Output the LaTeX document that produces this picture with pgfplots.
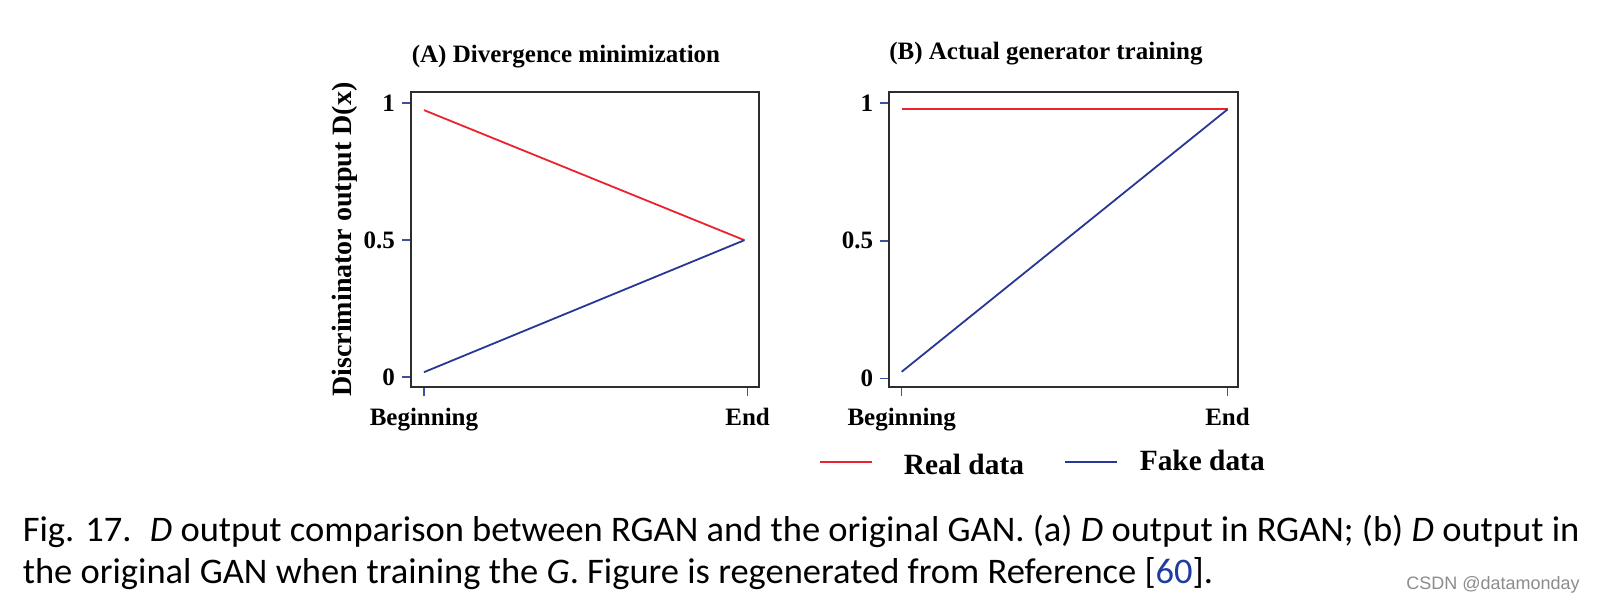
\documentclass[border=0pt]{standalone}
\usepackage{fontspec}
\setmainfont{Liberation Serif}
\newfontfamily\capfont{Carlito}
\newfontfamily\wmfont{Liberation Sans}
\usepackage{pgfplots}
\pgfplotsset{compat=1.18}
\definecolor{realred}{RGB}{235,35,45}
\definecolor{fakeblue}{RGB}{40,55,150}
\definecolor{tickblue}{RGB}{60,80,160}
\definecolor{linkblue}{RGB}{30,60,160}
\definecolor{framegray}{RGB}{45,45,45}
\newsavebox\capA
\newsavebox\capB
\newlength\capw
\AtBeginDocument{%
\savebox\capA{\capfont\fontsize{18}{21}\selectfont Fig. 17.\enspace\textit{D} output comparison between RGAN and the original GAN. (a) \textit{D} output in RGAN; (b) \textit{D} output in}%
\savebox\capB{\capfont\fontsize{18}{21}\selectfont the original GAN when training the \textit{G}. Figure is regenerated from Reference [{\color{linkblue}60}].}%
\setlength\capw{\wd\capA}%
\pgfmathsetmacro\capsx{778.3/\capw}%
}
\pgfplotsset{
  every axis title shift=0pt,
  gan/.style={
    scale only axis, width=174.15pt, height=147.2pt,
    anchor=south west,
    axis line style={draw=framegray, line width=1pt},
    xtick={0,1}, xticklabels={Beginning,End},
    ytick={0,0.5,1}, yticklabels={0,0.5,1},
    xtick pos=bottom, ytick pos=left,
    tick align=outside,
    major tick length=4.5pt,
    tick style={draw=tickblue, line width=0.8pt},
    tick label style={font=\fontsize{12.5}{14}\selectfont\bfseries, text=black},
    x tick label style={yshift=-2.5pt},
    title style={font=\fontsize{12.5}{14}\selectfont\bfseries, anchor=center},
  }
}
\begin{document}
\begin{tikzpicture}
\path[use as bounding box, fill=white] (0,0) rectangle (798.5pt,-301.5pt);
% Panel A
\begin{axis}[gan,
  at={(205.5pt,-193.35pt)},
  xmin=-0.04, xmax=1.036, ymin=-0.035, ymax=1.04,
  title={(A) Divergence minimization},
  title style={at={(axis description cs:0.445,1.121)}},
  ylabel={Discriminator output D(x)},
  ylabel style={at={(axis description cs:-0.1895,0.5)}, anchor=center, font=\fontsize{14}{16}\selectfont\bfseries},
]
\addplot[realred, line width=0.9pt] coordinates {(0,0.975) (0.99,0.5)};
\addplot[fakeblue, line width=0.9pt] coordinates {(0,0.018) (0.99,0.5)};
\end{axis}
% Panel B
\begin{axis}[gan,
  at={(444.65pt,-193.35pt)},
  xmin=-0.038, xmax=1.031, ymin=-0.029, ymax=1.038,
  title={(B) Actual generator training},
  title style={at={(axis description cs:0.4497,1.1325)}},
  legend image code/.code={\draw[#1] (0pt,0pt) -- (26pt,0pt);},
  legend style={draw=none, fill=none, inner sep=0pt,
    at={(axis description cs:-0.202,-0.2548)}, anchor=west,
    legend columns=2,
    font=\fontsize{14.7}{16}\selectfont\bfseries,
    nodes={inner sep=0pt},
    /tikz/every odd column/.append style={column sep=11pt},
    /tikz/every even column/.append style={column sep=20pt}},
  legend cell align=left,
]
\addplot[realred, line width=0.9pt] coordinates {(0,0.977) (1,0.977)};
\addlegendentry{\hspace{4.4pt}\raisebox{-2pt}[0.7em][0.15em]{Real data}}
\addplot[fakeblue, line width=0.9pt] coordinates {(0,0.025) (1,0.976)};
\addlegendentry{Fake data}
\end{axis}
% caption
\node[anchor=base west, inner sep=0pt] at (11.2pt,-270.85pt) {\scalebox{\capsx}[1]{\usebox\capA}};
\node[anchor=base west, inner sep=0pt] at (11.2pt,-292pt) {\scalebox{\capsx}[1]{\usebox\capB}};
\node[anchor=base, inner sep=0pt, text=black!45] at (746.5pt,-295pt) {\wmfont\fontsize{9}{10}\selectfont CSDN @datamonday};
\end{tikzpicture}
\end{document}
